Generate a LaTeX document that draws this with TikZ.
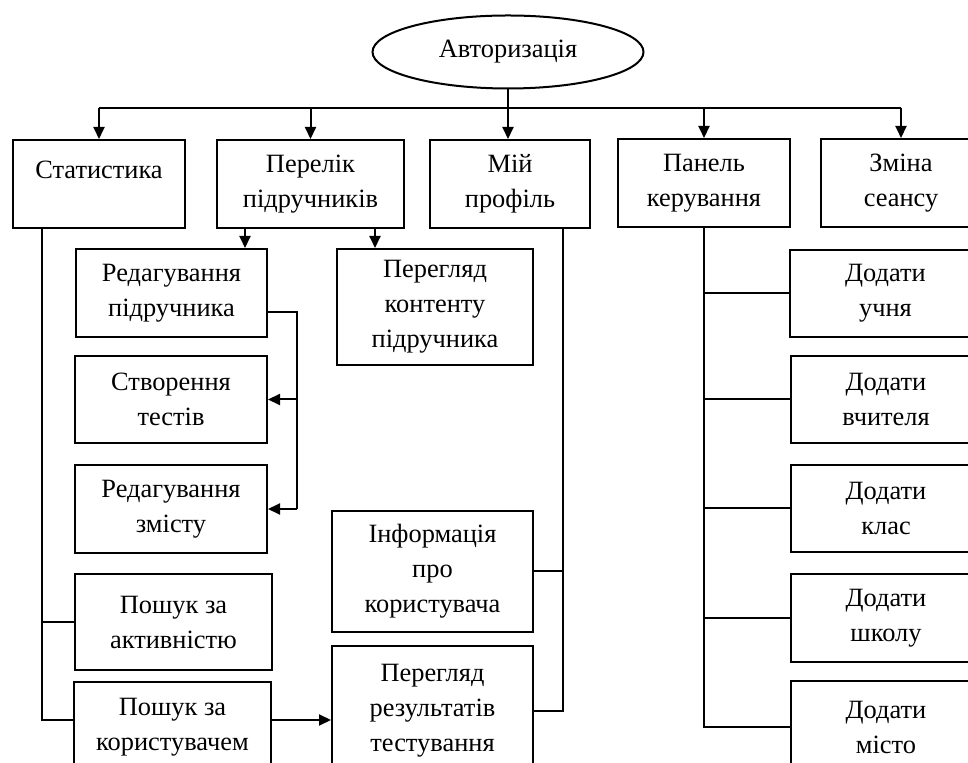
\documentclass[tikz,border=0pt]{standalone}
\usepackage{fontspec}
\setmainfont{Liberation Serif}
\usetikzlibrary{arrows.meta,shapes.geometric}

\begin{document}
\begin{tikzpicture}[x=0.5pt,y=-0.5pt,line width=1pt,>={Triangle[length=6pt,width=5.5pt]},
    every node/.style={font=\fontsize{13.2}{17.5}\selectfont},
    sz/.style 2 args={minimum width=#1*0.5pt,minimum height=#2*0.5pt},
    blk/.style={draw,rectangle,anchor=north west,align=center,inner sep=0pt}]
  \useasboundingbox (0,0) rectangle (968,763);
  \clip (0,0) rectangle (968,763);

  \node[ellipse,draw,inner sep=0pt,sz={271}{73}] (auth) at (508,52) {Авторизація};

  % first row
  \node[blk,sz={172}{88}] (stat) at (12,139) {\strut Статистика\\\mbox{}};
  \node[blk,sz={187}{88}] (list) at (216,139) {Перелік\\підручників};
  \node[blk,sz={160}{88}] (prof) at (429,139) {Мій\\профіль};
  \node[blk,sz={172}{88}] (panel) at (617,138) {Панель\\керування};
  \node[blk,sz={160}{88}] (sess) at (820,138) {Зміна\\сеансу};

  % textbooks
  \node[blk,sz={191}{88}] (editbook) at (75,248) {Редагування\\підручника};
  \node[blk,sz={196}{116}] (view) at (336,248) {Перегляд\\контенту\\підручника};
  \node[blk,sz={192}{87}] (tests) at (74,355) {Створення\\тестів};
  \node[blk,sz={192}{88}] (editcont) at (74,464) {Редагування\\змісту};

  % statistics and profile
  \node[blk,sz={197}{96}] (actsrch) at (74,573) {Пошук за\\активністю};
  \node[blk,sz={197}{90}] (usrsrch) at (73,681) {Пошук за\\користувачем};
  \node[blk,sz={201}{121}] (info) at (331,510) {Інформація\\про\\користувача};
  \node[blk,sz={201}{130}] (results) at (331,645) {Перегляд\\результатів\\тестування};

  % control panel
  \node[blk,sz={191}{87}] (addpupil) at (789,249) {Додати\\учня};
  \node[blk,sz={190}{87}] (addteach) at (790,355) {Додати\\вчителя};
  \node[blk,sz={190}{87}] (addclass) at (790,464) {Додати\\клас};
  \node[blk,sz={190}{88}] (addschool) at (790,573) {Додати\\школу};
  \node[blk,sz={190}{92}] (addcity) at (790,680) {Додати\\місто};

  \coordinate (bus) at (0,108);
  \coordinate (rail) at (297,0);
  \coordinate (sline) at ([xshift=15pt]stat.south west);
  \coordinate (pline) at ([xshift=-14pt]prof.south east);
  \coordinate (ebout) at ([yshift=-9.5pt]editbook.east);
  \coordinate (usrout) at ([yshift=3.5pt]usrsrch.east);
  \coordinate (usrin) at ([yshift=3.5pt]usrsrch.west);
  \coordinate (lsA) at ([xshift=14.5pt]list.south west);
  \coordinate (lsB) at ([xshift=-15pt]list.south east);

  \draw (stat.north |- bus) -- (sess.north |- bus);
  \draw[->] (auth.south) -- (auth.south |- prof.north);
  \foreach \n in {stat,list,panel,sess}
    \draw[->] (\n.north |- bus) -- (\n.north);

  \draw[->] (lsA) -- (lsA |- editbook.north);
  \draw[->] (lsB) -- (lsB |- view.north);

  \draw (ebout) -- (ebout -| rail) -- (rail |- editcont.east);
  \draw[->] (rail |- tests.east) -- (tests.east);
  \draw[->] (rail |- editcont.east) -- (editcont.east);

  \draw (sline) |- (usrin);
  \draw (sline |- actsrch.west) -- (actsrch.west);
  \draw[->] (usrout) -- (usrout -| results.west);

  \draw (pline) |- (results.east);
  \draw (pline |- info.east) -- (info.east);

  \draw (panel.south) |- (addcity.west);
  \foreach \n in {addpupil,addteach,addclass,addschool}
    \draw (panel.south |- \n.west) -- (\n.west);
\end{tikzpicture}
\end{document}
